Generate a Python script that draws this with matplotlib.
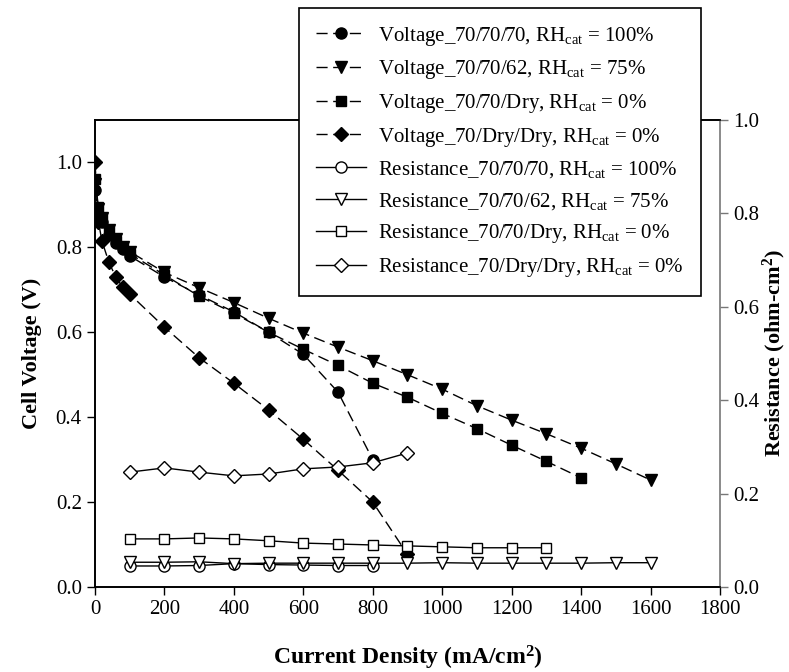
import matplotlib
matplotlib.use('Agg')
import matplotlib.pyplot as plt

plt.rcParams['font.family'] = ['Liberation Serif', 'DejaVu Serif']
plt.rcParams['mathtext.fontset'] = 'custom'
plt.rcParams['mathtext.rm'] = 'Liberation Serif'
plt.rcParams['mathtext.bf'] = 'Liberation Serif:bold'
plt.rcParams['mathtext.it'] = 'Liberation Serif:italic'

# current densities (mA/cm2)
x_low = [0, 10, 20, 40, 60, 80, 100]
x_hi = [200, 300, 400, 500, 600, 700, 800, 900, 1000, 1100, 1200, 1300, 1400, 1500, 1600]

# voltage data
v_70_70_70_x = x_low + [200, 300, 400, 500, 600, 700, 800]
v_70_70_70 = [0.935, 0.875, 0.86, 0.83, 0.81, 0.795, 0.78, 0.73, 0.688, 0.648, 0.60, 0.548, 0.459, 0.30]

v_70_70_62_x = x_low + x_hi
v_70_70_62 = [0.95, 0.89, 0.87, 0.84, 0.82, 0.80, 0.79, 0.741, 0.705, 0.67, 0.633, 0.598, 0.565,
              0.533, 0.50, 0.466, 0.427, 0.393, 0.361, 0.327, 0.29, 0.252]

v_70_70_dry_x = x_low + x_hi[:13]
v_70_70_dry = [0.96, 0.895, 0.87, 0.84, 0.815, 0.80, 0.785, 0.735, 0.685, 0.645, 0.60, 0.56, 0.522,
               0.48, 0.447, 0.409, 0.373, 0.334, 0.296, 0.257]

v_70_dry_dry_x = x_low + [200, 300, 400, 500, 600, 700, 800, 900]
v_70_dry_dry = [1.0, 0.86, 0.815, 0.765, 0.73, 0.706, 0.69, 0.612, 0.54, 0.48, 0.417, 0.348,
                0.275, 0.20, 0.077]

# resistance data (ohm-cm2)
r_70_70_70_x = [100, 200, 300, 400, 500, 600, 700, 800]
r_70_70_70 = [0.045, 0.045, 0.046, 0.05, 0.048, 0.047, 0.046, 0.046]

r_70_70_62_x = [100, 200, 300, 400, 500, 600, 700, 800, 900, 1000, 1100, 1200, 1300, 1400, 1500, 1600]
r_70_70_62 = [0.053, 0.053, 0.054, 0.05, 0.051, 0.051, 0.051, 0.051, 0.051, 0.052, 0.051, 0.051,
              0.051, 0.051, 0.052, 0.052]

r_70_70_dry_x = [100, 200, 300, 400, 500, 600, 700, 800, 900, 1000, 1100, 1200, 1300]
r_70_70_dry = [0.103, 0.103, 0.105, 0.103, 0.099, 0.094, 0.092, 0.09, 0.088, 0.086, 0.084, 0.084, 0.084]

r_70_dry_dry_x = [100, 200, 300, 400, 500, 600, 700, 800, 900]
r_70_dry_dry = [0.246, 0.255, 0.246, 0.238, 0.242, 0.253, 0.257, 0.266, 0.287]

labels_v = [r'Voltage_70/70/70, RH$_\mathregular{cat}$ = 100%',
            r'Voltage_70/70/62, RH$_\mathregular{cat}$ = 75%',
            r'Voltage_70/70/Dry, RH$_\mathregular{cat}$ = 0%',
            r'Voltage_70/Dry/Dry, RH$_\mathregular{cat}$ = 0%']
labels_r = [r'Resistance_70/70/70, RH$_\mathregular{cat}$ = 100%',
            r'Resistance_70/70/62, RH$_\mathregular{cat}$ = 75%',
            r'Resistance_70/70/Dry, RH$_\mathregular{cat}$ = 0%',
            r'Resistance_70/Dry/Dry, RH$_\mathregular{cat}$ = 0%']

fig = plt.figure(figsize=(7.89, 6.72), dpi=100)
ax = fig.add_axes([0.1204, 0.1265, 0.7921, 0.6949])
ax2 = ax.twinx()

dash = (8, 4)
ms = 8
h = []
h += ax.plot(v_70_70_70_x, v_70_70_70, color='black', ls='--', dashes=dash, lw=1, marker='o', ms=ms, label=labels_v[0])
h += ax.plot(v_70_70_62_x, v_70_70_62, color='black', ls='--', dashes=dash, lw=1, marker='v', ms=ms + 1, label=labels_v[1])
h += ax.plot(v_70_70_dry_x, v_70_70_dry, color='black', ls='--', dashes=dash, lw=1, marker='s', ms=ms - 0.5, label=labels_v[2])
h += ax.plot(v_70_dry_dry_x, v_70_dry_dry, color='black', ls='--', dashes=dash, lw=1, marker='D', ms=ms - 1, label=labels_v[3])

mk = dict(color='black', lw=1, mfc='white', mec='black', mew=1)
h += ax2.plot(r_70_70_70_x, r_70_70_70, marker='o', ms=ms, label=labels_r[0], **mk)
h += ax2.plot(r_70_70_62_x, r_70_70_62, marker='v', ms=ms + 1, label=labels_r[1], **mk)
h += ax2.plot(r_70_70_dry_x, r_70_70_dry, marker='s', ms=ms - 0.5, label=labels_r[2], **mk)
h += ax2.plot(r_70_dry_dry_x, r_70_dry_dry, marker='D', ms=ms - 1, label=labels_r[3], **mk)

ax.set_xlim(0, 1800)
ax.set_ylim(0, 1.1)
ax2.set_ylim(0, 1.0)
ax.set_xticks(range(0, 1801, 200))
ax.set_yticks([0.0, 0.2, 0.4, 0.6, 0.8, 1.0])
ax2.set_yticks([0.0, 0.2, 0.4, 0.6, 0.8, 1.0])
ax.yaxis.set_major_formatter(matplotlib.ticker.FormatStrFormatter('%.1f'))
ax2.yaxis.set_major_formatter(matplotlib.ticker.FormatStrFormatter('%.1f'))

for a in (ax, ax2):
    a.tick_params(direction='out', length=6, width=1, labelsize=15)
    for s in a.spines.values():
        s.set_linewidth(1.2)
ax.spines['right'].set_visible(False)
ax2.spines['right'].set_color('#777777')
ax2.tick_params(axis='y', colors='#777777', labelcolor='black')

ax.set_xlabel(r'Current Density (mA/cm$^\mathbf{2}$)', fontsize=17, fontweight='bold', labelpad=18)
ax.set_ylabel('Cell Voltage (V)', fontsize=16, fontweight='bold', labelpad=10)
ax2.set_ylabel(r'Resistance (ohm-cm$^\mathbf{2}$)', fontsize=16, fontweight='bold', labelpad=1)

leg = fig.legend(handles=h, loc='upper left', bbox_to_anchor=(0.379, 0.988), fontsize=15,
                 frameon=True, fancybox=False, framealpha=1, edgecolor='black',
                 handlelength=2.4, handletextpad=0.6, labelspacing=0.51, borderpad=0.8,
                 borderaxespad=0)
leg.get_frame().set_linewidth(1.2)

fig.savefig('out.png', dpi=100)
